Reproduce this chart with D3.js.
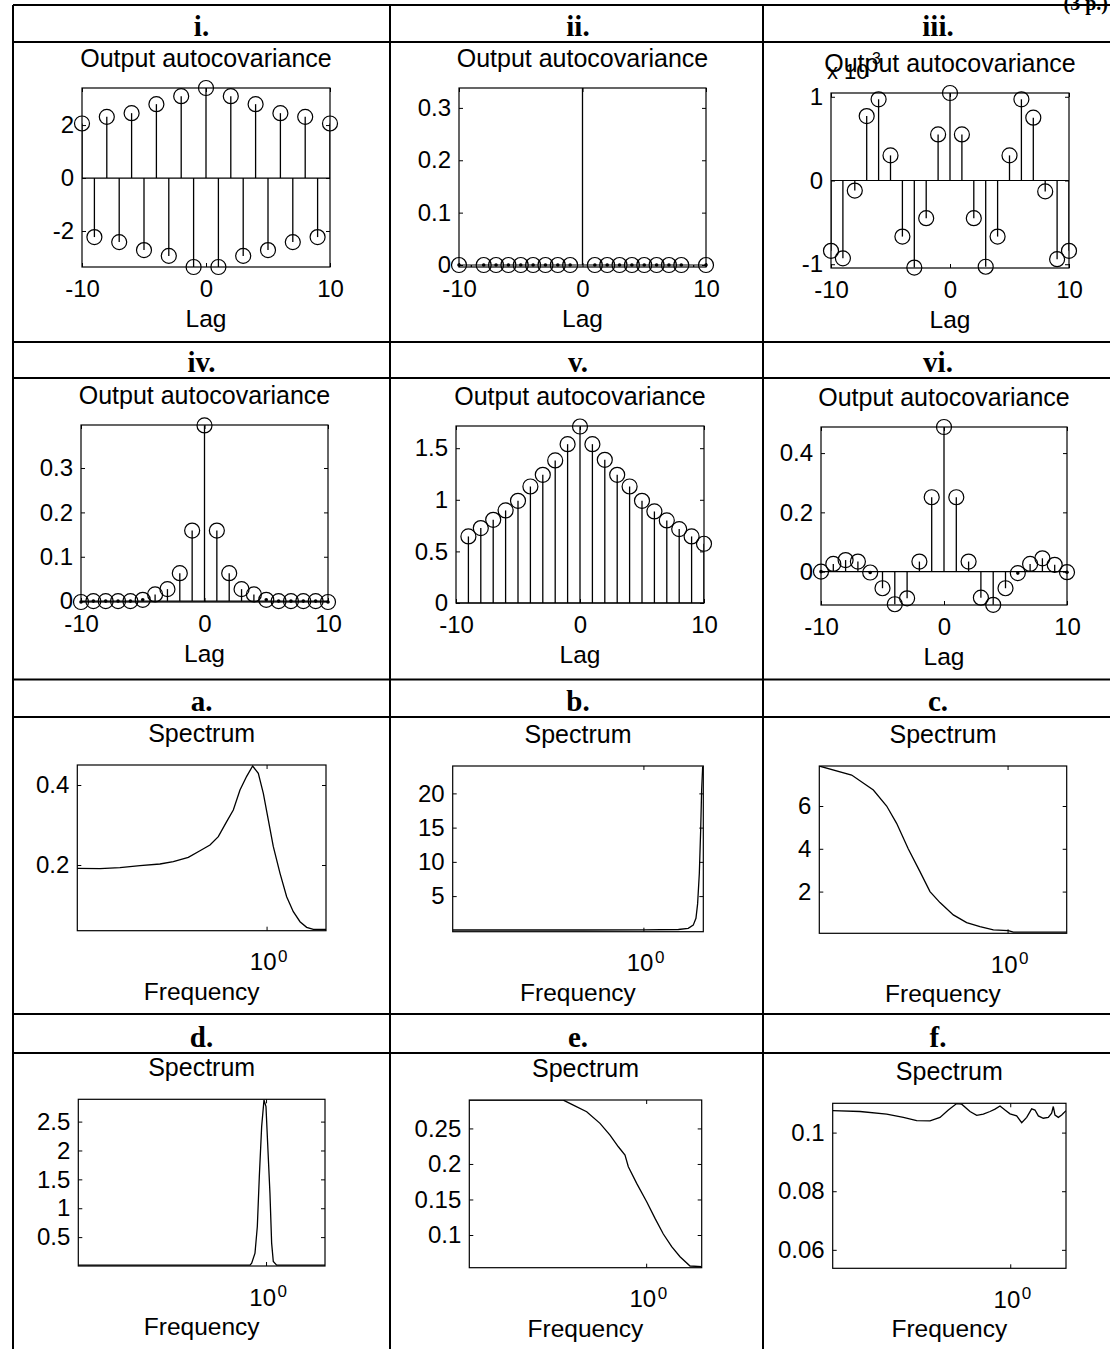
<!DOCTYPE html>
<html>
<head>
<meta charset="utf-8">
<script src="https://cdn.jsdelivr.net/npm/d3@7"></script>
<style>
  body { margin: 0; background: #fff; }
  svg { display: block; }
  text { font-family: Arial, "Liberation Sans", Helvetica, sans-serif; fill: #000; }
  .hdr { font-family: "Times New Roman", "Liberation Serif", serif; font-weight: bold; }
</style>
</head>
<body>
<svg id="chart" width="1110" height="1349"></svg>
<script>
// ---------- data ----------
const lags = [-10, -9, -8, -7, -6, -5, -4, -3, -2, -1, 0, 1, 2, 3, 4, 5, 6, 7, 8, 9, 10];
const lagsV = [-9, -8, -7, -6, -5, -4, -3, -2, -1, 0, 1, 2, 3, 4, 5, 6, 7, 8, 9, 10];

const acvI = [2.06, -2.23, 2.31, -2.42, 2.45, -2.72, 2.79, -2.94, 3.09, -3.36, 3.40,
              -3.36, 3.09, -2.94, 2.79, -2.72, 2.45, -2.42, 2.31, -2.23, 2.06];
const acvII = [0, -0.004, 0, 0, 0, 0, 0, 0, 0, 0, 1.0,
               0, 0, 0, 0, 0, 0, 0, 0, -0.006, 0];
// panel iii in units of 1e-3
const acvIII = [-0.84, -0.93, -0.12, 0.77, 0.97, 0.30, -0.67, -1.04, -0.45, 0.55, 1.045,
                0.55, -0.45, -1.03, -0.67, 0.30, 0.97, 0.75, -0.13, -0.94, -0.84];
const acvIV = [-0.002, 0, 0, 0, 0, 0.003, 0.015, 0.027, 0.063, 0.159, 0.396,
               0.159, 0.063, 0.027, 0.015, 0.003, 0, 0, 0, 0, -0.002];
const acvV = [0.645, 0.726, 0.806, 0.897, 0.99, 1.129, 1.242, 1.381, 1.539, 1.71,
              1.539, 1.387, 1.242, 1.129, 0.99, 0.887, 0.80, 0.716, 0.645, 0.574];
const acvVI = [0, 0.026, 0.039, 0.034, -0.003, -0.056, -0.11, -0.09, 0.034, 0.251, 0.488,
               0.251, 0.034, -0.088, -0.112, -0.056, -0.005, 0.026, 0.045, 0.023, -0.002];

const ticksI = [-2, 0, 2];
const ticksII = [0, 0.1, 0.2, 0.3];
const ticksIII = [-1, 0, 1];
const ticksIV = [0, 0.1, 0.2, 0.3];
const ticksV = [0, 0.5, 1, 1.5];
const ticksVI = [0, 0.2, 0.4];
const lagTicks = [-10, 0, 10];

const freqA = [0.11, 0.1433, 0.1809, 0.2285, 0.2884, 0.337, 0.4015, 0.46, 0.5169, 0.5696, 0.6279, 0.6785,
               0.7334, 0.7929, 0.8502, 0.9082, 0.963, 1.021, 1.082, 1.17, 1.264, 1.366, 1.477, 1.596, 1.726, 2.0];
const specA = [0.1917, 0.1908, 0.1933, 0.1983, 0.2025, 0.2083, 0.2192, 0.2358, 0.25, 0.2708, 0.3083, 0.3375,
               0.3875, 0.4217, 0.4475, 0.4292, 0.3792, 0.3125, 0.2458, 0.1792, 0.1208, 0.0833, 0.0583, 0.0442, 0.0392, 0.0392];
const freqB = [0.11, 0.5, 1.0, 1.5, 1.68, 1.78, 1.837, 1.873, 1.91, 1.94, 1.962, 1.985, 2.0];
const specB = [0.05, 0.05, 0.06, 0.12, 0.3, 0.76, 1.75, 3.9, 8.3, 14.6, 20.5, 23.8, 24.0];
const freqC = [0.11, 0.1607, 0.2073, 0.2423, 0.2723, 0.3124, 0.3581, 0.4027, 0.4528, 0.5294, 0.619, 0.7237,
               0.8463, 1.009, 1.07, 2.0];
const specC = [7.868, 7.447, 6.747, 6.0, 5.191, 3.992, 2.934, 2.0, 1.486, 0.911, 0.553, 0.366,
               0.21, 0.179, 0.101, 0.101];
const freqD = [0.11, 0.8281, 0.8444, 0.8782, 0.9026, 0.924, 0.9497, 0.9761, 0.9993, 1.019, 1.047, 1.068, 1.089, 1.133, 2.0];
const specD = [0.016, 0.016, 0.05, 0.223, 0.684, 1.549, 2.413, 2.874, 2.759, 2.125, 1.26, 0.396, 0.079, 0.016, 0.016];
const freqE = [0.11, 0.3556, 0.4029, 0.476, 0.5621, 0.6368, 0.7068, 0.768, 0.8005, 0.8884, 1.0065, 1.117,
               1.239, 1.375, 1.526, 1.729, 2.0];
const specE = [0.2899, 0.2899, 0.2828, 0.2735, 0.2571, 0.2406, 0.2242, 0.2125, 0.1961, 0.1727, 0.1469, 0.1234,
               0.1014, 0.0836, 0.0695, 0.0564, 0.0555];
const freqF = [0.11, 0.1545, 0.2152, 0.2648, 0.3125, 0.3688, 0.4176, 0.4632, 0.5138, 0.5468, 0.6063, 0.6589,
               0.7158, 0.7776, 0.8276, 0.8805, 0.9369, 0.997, 1.083, 1.153, 1.227, 1.305, 1.36, 1.418, 1.508,
               1.605, 1.673, 1.708, 1.744, 1.818, 1.895, 2.0];
const specF = [0.1075, 0.1072, 0.1063, 0.1052, 0.1041, 0.104, 0.1052, 0.1077, 0.1099, 0.1097, 0.1072, 0.1059,
               0.1063, 0.1072, 0.108, 0.1091, 0.1077, 0.1064, 0.1057, 0.1034, 0.1052, 0.1081, 0.1077, 0.1057,
               0.1049, 0.1052, 0.1066, 0.1089, 0.106, 0.1052, 0.106, 0.1075];

const ticksA = [0.2, 0.4];
const ticksB = [5, 10, 15, 20];
const ticksC = [2, 4, 6];
const ticksD = [0.5, 1, 1.5, 2, 2.5];
const ticksE = [0.1, 0.15, 0.2, 0.25];
const ticksF = [0.06, 0.08, 0.1];
const freqTicks = [1];

// ---------- layout ----------
const svg = d3.select("#chart");
svg.append("rect").attr("width", 1110).attr("height", 1349).attr("fill", "#fff");

const colLines = [13, 390, 763, 1113];
const rowLines = [5, 42, 342, 378, 679.5, 717, 1014, 1053];
const colCenters = [201.5, 578, 938];

// points note at the top right of the scan
svg.append("text").attr("class", "hdr").attr("x", 1108).attr("y", 10).attr("text-anchor", "end")
  .attr("font-size", 20).attr("font-weight", "normal").text("(3 p.)");

const grid = svg.append("g").attr("stroke", "#000").attr("stroke-width", 2);
colLines.forEach(x => grid.append("line").attr("x1", x).attr("x2", x).attr("y1", 5).attr("y2", 1349));
rowLines.forEach(y => grid.append("line").attr("x1", 13).attr("x2", 1113).attr("y1", y).attr("y2", y));

const headers = [["i.", "ii.", "iii."], ["iv.", "v.", "vi."], ["a.", "b.", "c."], ["d.", "e.", "f."]];
headers.forEach((row, r) => row.forEach((h, c) => {
  svg.append("text").attr("class", "hdr")
    .attr("x", colCenters[c]).attr("y", rowLines[r * 2 + 1] - 6.5)
    .attr("text-anchor", "middle").attr("font-size", 29).text(h);
}));

const FS_TICK = 24, FS_TITLE = 25, FS_LABEL = 24.5;
let clipId = 0;

function axes(g, ax, x, y, xTicks, yTicks, xFmt) {
  const font = (sel) => sel.attr("font-size", FS_TICK).attr("font-family", "Arial, 'Liberation Sans', sans-serif");
  g.append("g").attr("transform", `translate(${ax.x0},0)`)
    .call(d3.axisLeft(y).tickValues(yTicks).tickSizeInner(-4).tickSizeOuter(0).tickPadding(8)
      .tickFormat(d => String(d)))
    .call(font).call(s => s.select(".domain").remove());
  g.append("g").attr("transform", `translate(${ax.x1},0)`)
    .call(d3.axisRight(y).tickValues(yTicks).tickSizeInner(-4).tickSizeOuter(0).tickFormat(""))
    .call(s => s.select(".domain").remove());
  g.append("g").attr("transform", `translate(0,${ax.y1})`)
    .call(d3.axisBottom(x).tickValues(xTicks).tickSizeInner(-4).tickSizeOuter(0).tickPadding(13)
      .tickFormat(xFmt))
    .call(font).call(s => s.select(".domain").remove());
  g.append("g").attr("transform", `translate(0,${ax.y0})`)
    .call(d3.axisTop(x).tickValues(xTicks).tickSizeInner(-4).tickSizeOuter(0).tickFormat(""))
    .call(s => s.select(".domain").remove());
  g.selectAll(".tick line").attr("stroke", "#000").attr("stroke-width", 1);
  g.append("rect").attr("x", ax.x0).attr("y", ax.y0)
    .attr("width", ax.x1 - ax.x0).attr("height", ax.y1 - ax.y0)
    .attr("fill", "none").attr("stroke", "#000").attr("stroke-width", 1.2);
}

function clip(ax) {
  const id = "clip" + (clipId++);
  svg.append("clipPath").attr("id", id).append("rect")
    .attr("x", ax.x0).attr("y", ax.y0).attr("width", ax.x1 - ax.x0).attr("height", ax.y1 - ax.y0);
  return `url(#${id})`;
}

// ---------- autocovariance stem panels ----------
const stemPanels = [
  { lags: lags, vals: acvI, ticks: ticksI, dom: [-3.36, 3.40], ax: { x0: 82, x1: 330, y0: 88, y1: 267 } },
  { lags: lags, vals: acvII, ticks: ticksII, dom: [-0.0038, 0.338], ax: { x0: 459, x1: 706, y0: 88, y1: 267 } },
  { lags: lags, vals: acvIII, ticks: ticksIII, dom: [-1.045, 1.045], ax: { x0: 831, x1: 1069, y0: 93, y1: 268 }, exp: true },
  { lags: lags, vals: acvIV, ticks: ticksIV, dom: [-0.002, 0.397], ax: { x0: 81, x1: 328, y0: 425, y1: 602 } },
  { lags: lagsV, vals: acvV, ticks: ticksV, dom: [0, 1.715], ax: { x0: 456, x1: 704, y0: 426, y1: 603 } },
  { lags: lags, vals: acvVI, ticks: ticksVI, dom: [-0.1126, 0.488], ax: { x0: 821, x1: 1067, y0: 427, y1: 605 } }
];

stemPanels.forEach(p => {
  const ax = p.ax;
  const g = svg.append("g");
  const x = d3.scaleLinear().domain([-10, 10]).range([ax.x0, ax.x1]);
  const y = d3.scaleLinear().domain(p.dom).range([ax.y1, ax.y0]);
  const cx = (ax.x0 + ax.x1) / 2;

  g.append("text").attr("x", cx).attr("y", ax.y0 - 21.5).attr("text-anchor", "middle")
    .attr("font-size", FS_TITLE).text("Output autocovariance");
  if (p.exp) {
    const t = g.append("text").attr("x", ax.x0 - 4).attr("y", ax.y0 - 14).attr("font-size", 22);
    t.append("tspan").text("x 10");
    t.append("tspan").attr("dy", -15).attr("dx", -2).attr("font-size", 16).text("-3");
  }
  g.append("text").attr("x", cx).attr("y", ax.y1 + 60).attr("text-anchor", "middle")
    .attr("font-size", FS_LABEL).text("Lag");

  axes(g, ax, x, y, lagTicks, p.ticks, d => String(d));

  const data = p.lags.map((l, i) => ({ l, v: p.vals[i] }));
  const marks = g.append("g");
  // stem baseline
  marks.append("line").attr("x1", x(-10)).attr("x2", x(10)).attr("y1", y(0)).attr("y2", y(0))
    .attr("stroke", "#000").attr("stroke-width", 1.2);
  marks.append("g").attr("clip-path", clip(ax)).selectAll("line").data(data).join("line")
    .attr("x1", d => x(d.l)).attr("x2", d => x(d.l))
    .attr("y1", y(0)).attr("y2", d => y(d.v))
    .attr("stroke", "#000").attr("stroke-width", 1.3);
  const inside = data.filter(d => d.v >= p.dom[0] - 1e-9 && d.v <= p.dom[1] + 1e-9);
  marks.selectAll("circle.m").data(inside).join("circle").attr("class", "m")
    .attr("cx", d => x(d.l)).attr("cy", d => y(d.v)).attr("r", 7.5)
    .attr("fill", "none").attr("stroke", "#000").attr("stroke-width", 1.2);
  marks.selectAll("circle.dot").data(inside.filter(d => Math.abs(y(d.v) - y(0)) < 2.5)).join("circle")
    .attr("class", "dot").attr("cx", d => x(d.l)).attr("cy", d => y(d.v)).attr("r", 1.8).attr("fill", "#000");
});

// ---------- spectrum panels ----------
const specPanels = [
  { f: freqA, s: specA, ticks: ticksA, dom: [0.0358, 0.45], ax: { x0: 77.3, x1: 326, y0: 765, y1: 930.7 } },
  { f: freqB, s: specB, ticks: ticksB, dom: [-0.2, 24], ax: { x0: 452.7, x1: 703.3, y0: 766, y1: 931.7 } },
  { f: freqC, s: specC, ticks: ticksC, dom: [0.05, 7.87], ax: { x0: 819.3, x1: 1066.7, y0: 766, y1: 933.3 } },
  { f: freqD, s: specD, ticks: ticksD, dom: [0, 2.886], ax: { x0: 78.3, x1: 325, y0: 1099.3, y1: 1266 } },
  { f: freqE, s: specE, ticks: ticksE, dom: [0.054, 0.29], ax: { x0: 469.3, x1: 701.7, y0: 1100, y1: 1267.7 } },
  { f: freqF, s: specF, ticks: ticksF, dom: [0.0537, 0.11], ax: { x0: 832.7, x1: 1066, y0: 1103.3, y1: 1268.3 } }
];

specPanels.forEach(p => {
  const ax = p.ax;
  const g = svg.append("g");
  const x = d3.scaleLog().domain([0.11, 2]).range([ax.x0, ax.x1]);
  const y = d3.scaleLinear().domain(p.dom).range([ax.y1, ax.y0]);
  const cx = (ax.x0 + ax.x1) / 2;

  g.append("text").attr("x", cx).attr("y", ax.y0 - 23).attr("text-anchor", "middle")
    .attr("font-size", FS_TITLE).text("Spectrum");
  g.append("text").attr("x", cx).attr("y", ax.y1 + 69).attr("text-anchor", "middle")
    .attr("font-size", FS_LABEL).text("Frequency");

  axes(g, ax, x, y, freqTicks, p.ticks, () => "");
  freqTicks.forEach(t => {
    g.append("text").attr("x", x(t) + 10).attr("y", ax.y1 + 39.5).attr("text-anchor", "end")
      .attr("font-size", FS_TICK).text("10");
    g.append("text").attr("x", x(t) + 11.5).attr("y", ax.y1 + 31).attr("font-size", 17).text("0");
  });

  const line = d3.line().x((d, i) => x(p.f[i])).y(d => y(d));
  g.append("path").datum(p.s).attr("clip-path", clip(ax)).attr("d", line)
    .attr("fill", "none").attr("stroke", "#000").attr("stroke-width", 1.3);
});
</script>
</body>
</html>
